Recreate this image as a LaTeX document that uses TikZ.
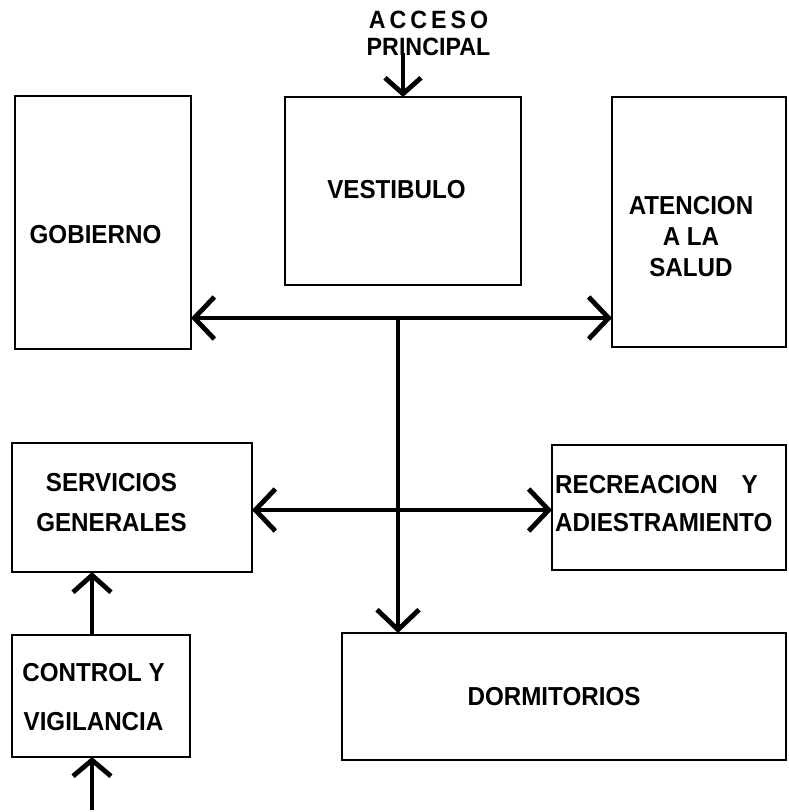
\documentclass[tikz,border=0pt]{standalone}
\usepackage{fontspec}
\setmainfont{Liberation Sans}
\newfontfamily\lblfont[FakeStretch=0.93]{Liberation Sans}
\usetikzlibrary{arrows.meta}
\begin{document}
\begin{tikzpicture}[x=1pt,y=-1pt,
  box/.style={draw, line width=2.4pt, rectangle, inner sep=0pt, outer sep=0pt, anchor=north west},
  lbl/.style={font=\lblfont\fontsize{26}{31}\selectfont\bfseries, inner sep=0pt, align=center},
  conn/.style={line width=4.8pt, arrows={-Straight Barb[length=20pt, width=42pt]}},
  conn2/.style={line width=4.8pt, arrows={Straight Barb[length=20pt, width=42pt]-Straight Barb[length=20pt, width=42pt]}}]
\useasboundingbox (0,0) rectangle (788,812);
% boxes
\node[box, minimum width=176pt, minimum height=253pt] (gob) at (15,96) {};
\node[box, minimum width=236pt, minimum height=188pt] (ves) at (285,97) {};
\node[box, minimum width=174pt, minimum height=250pt] (ate) at (612,97) {};
\node[box, minimum width=240pt, minimum height=129pt] (ser) at (12,443) {};
\node[box, minimum width=234pt, minimum height=125pt] (rec) at (552,445) {};
\node[box, minimum width=178pt, minimum height=122pt] (con) at (12,635) {};
\node[box, minimum width=444pt, minimum height=127pt] (dor) at (342,633) {};
% labels
\node[lbl] (tgob) at (95.5,235) {GOBIERNO};
\node[lbl] (tves) at (396.5,190) {VESTIBULO};
\node[lbl] (tate) at (691,237) {ATENCION\\A LA\\SALUD};
\node[lbl, font=\lblfont\fontsize{26}{40}\selectfont\bfseries] (tser) at (111.5,503) {SERVICIOS\\GENERALES};
\node[lbl, align=left, anchor=west, font=\lblfont\fontsize{26}{38}\selectfont\bfseries] (trec) at (555,504) {RECREACION\hspace{24pt}Y\\ADIESTRAMIENTO};
\node[lbl, font=\lblfont\fontsize{26}{49}\selectfont\bfseries] (tcon) at (93.5,697.5) {CONTROL Y\\VIGILANCIA};
\node[lbl] (tdor) at (554,697) {DORMITORIOS};
\node[lbl, font=\lblfont\fontsize{25}{27}\selectfont\bfseries] (tacc) at (428.5,33) {A\hspace{4pt}C\hspace{4pt}C\hspace{4pt}E\hspace{4pt}S\hspace{4pt}O\\PRINCIPAL};
% junctions
\coordinate (acc) at (403,53);
\coordinate (j1) at (398,318);
\coordinate (j2) at (398,510);
\coordinate (cx) at (92,690);
\coordinate (ent) at (92,810);
% connectors
\draw[conn, arrows={-Straight Barb[length=16pt, width=36pt]}] (acc) -- (acc |- ves.north);
\draw[conn2] (j1 -| gob.east) -- (j1 -| ate.west);
\draw[conn] (j1) -- (j1 |- dor.north);
\draw[conn2] (j2 -| ser.east) -- (j2 -| rec.west);
\draw[conn, arrows={-Straight Barb[length=17pt, width=38pt]}] (cx |- con.north) -- (cx |- ser.south);
\draw[conn, arrows={-Straight Barb[length=16pt, width=38pt]}] (ent) -- (ent |- con.south);
\end{tikzpicture}
\end{document}
